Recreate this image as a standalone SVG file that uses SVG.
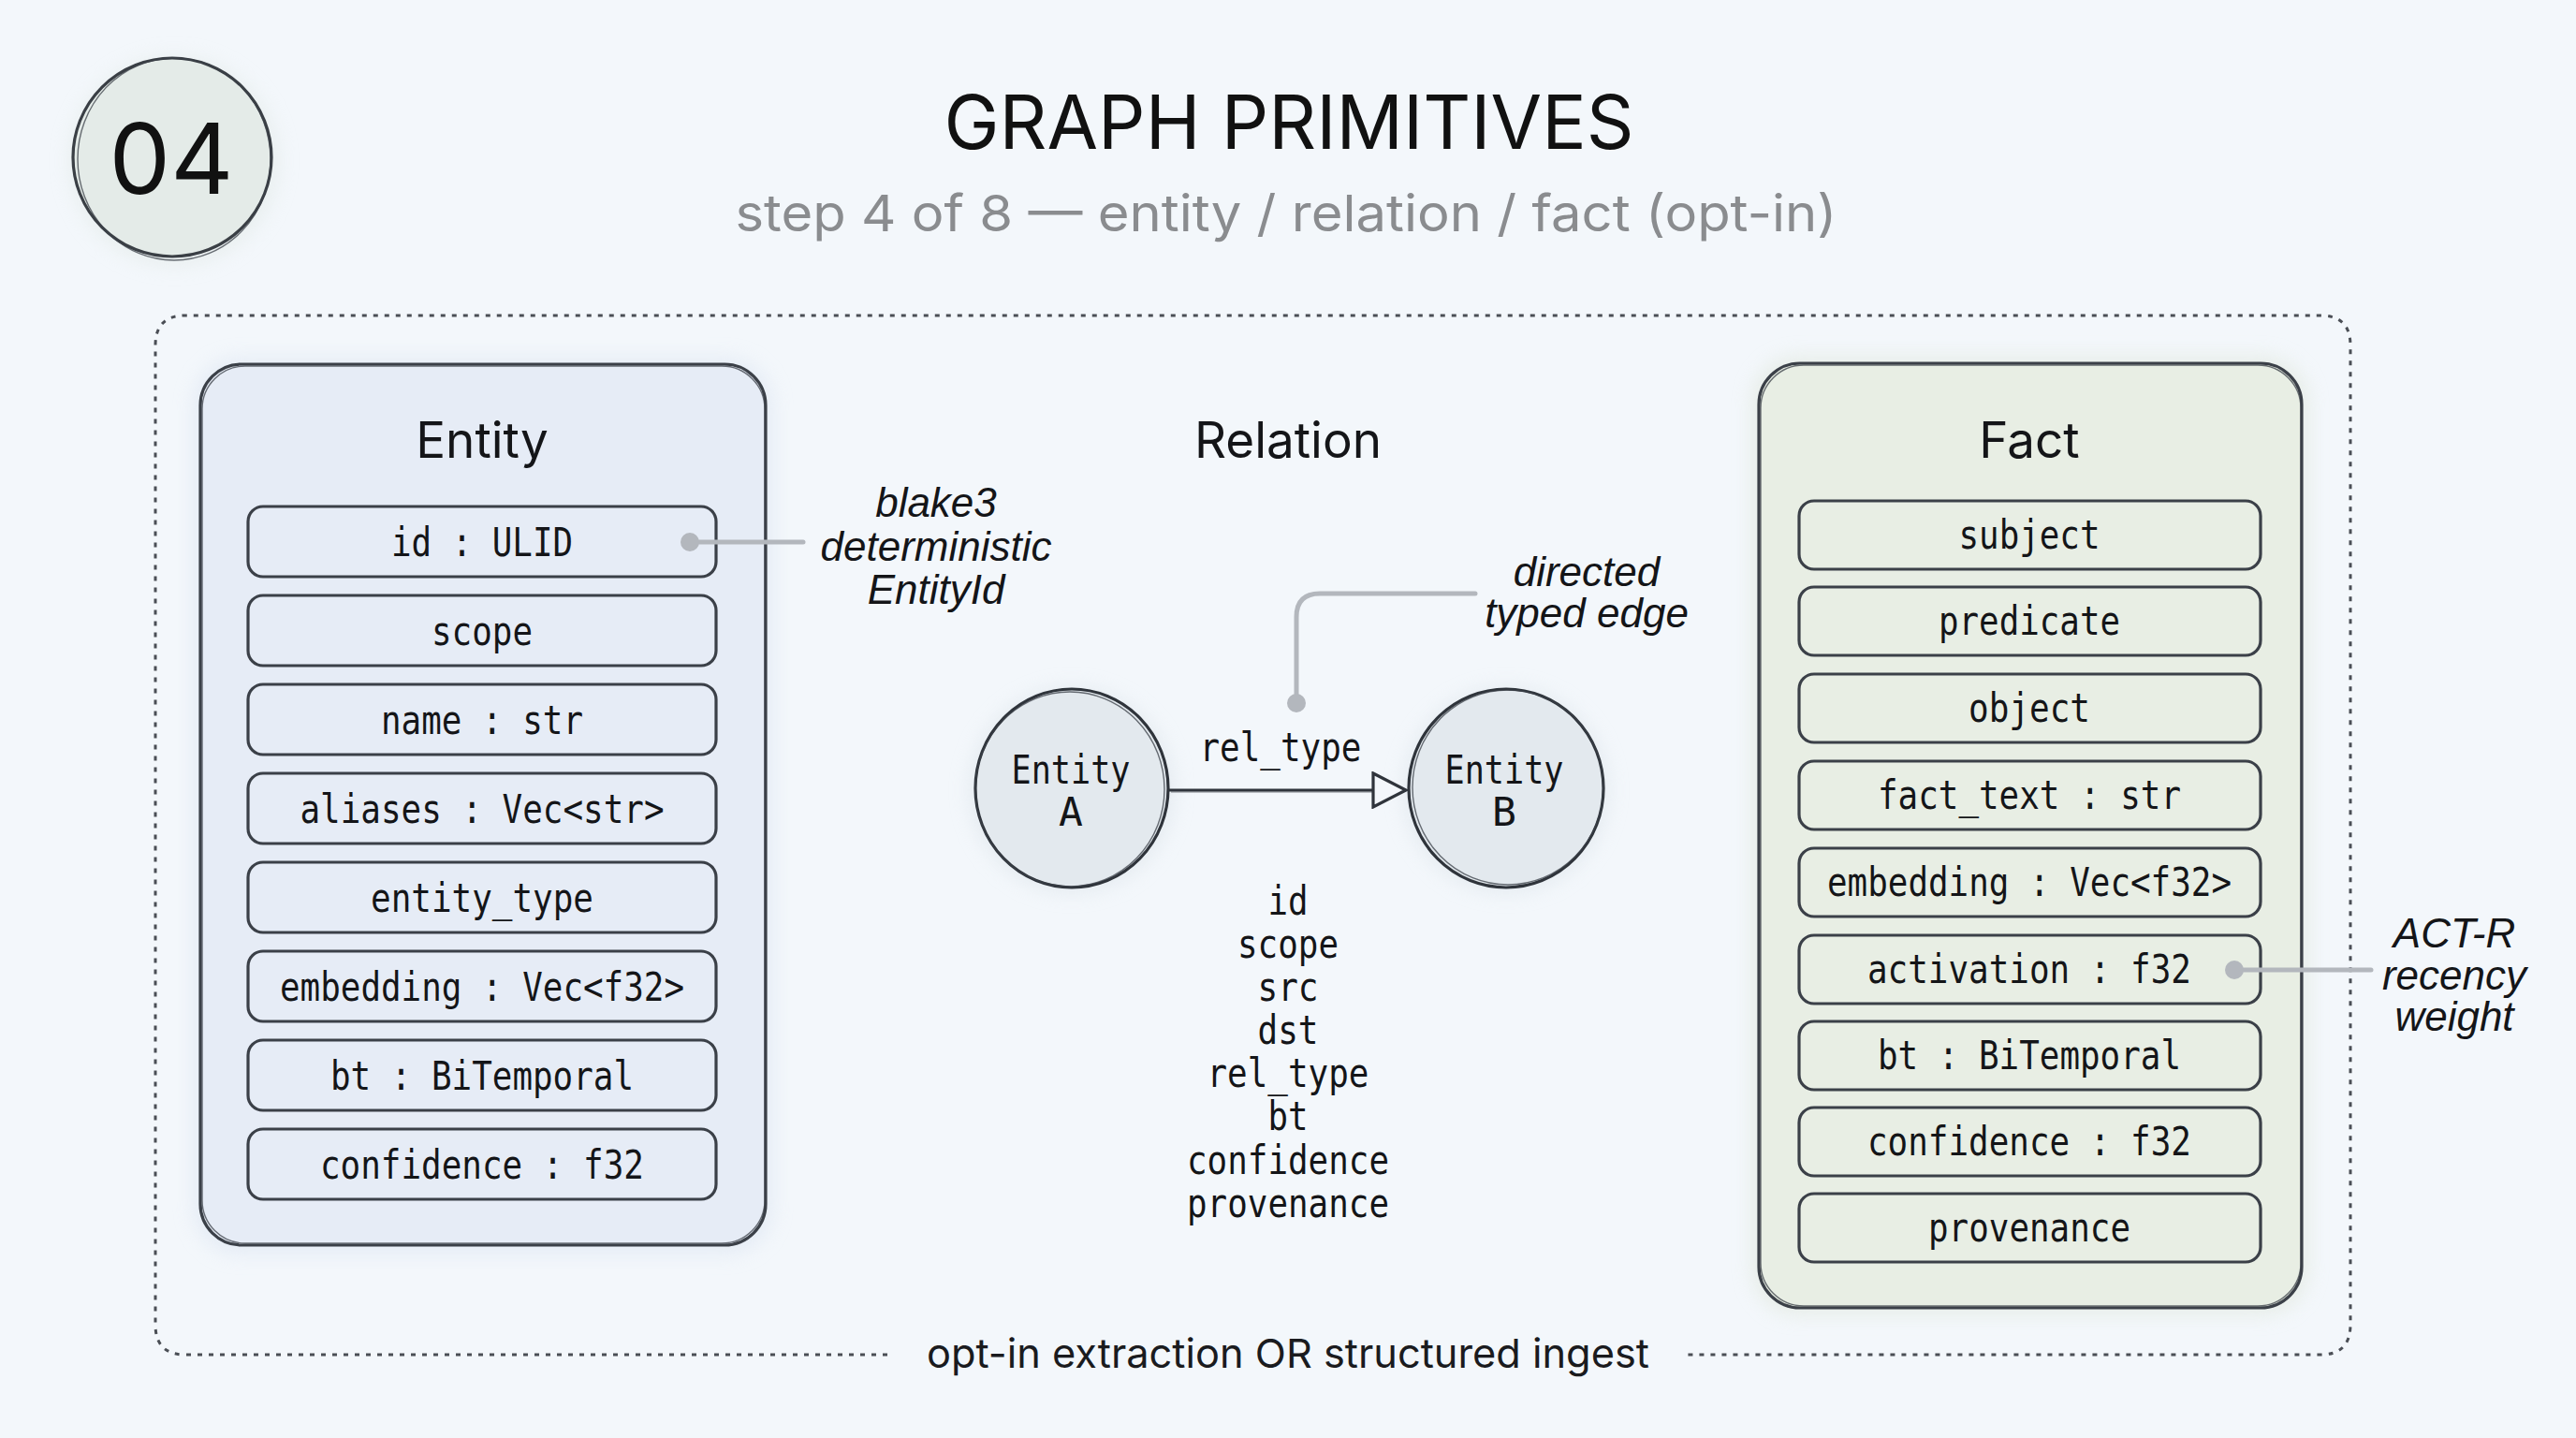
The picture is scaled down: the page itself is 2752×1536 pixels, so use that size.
<svg xmlns="http://www.w3.org/2000/svg" width="2752" height="1536" viewBox="0 0 2752 1536">
  <defs>
    <style>
      .sans { font-family: Inter, "Liberation Sans", sans-serif; }
      .mono { font-family: "DejaVu Sans Mono", "Liberation Mono", monospace; font-size: 43px; fill: #141518; text-anchor: middle; }
      .hand { font-family: "Liberation Sans", "DejaVu Sans", sans-serif; font-style: italic; font-size: 44px; fill: #141518; text-anchor: middle; }
      .ptitle { font-family: Inter, "Liberation Sans", sans-serif; font-size: 53px; fill: #141518; text-anchor: middle; }
      .field { fill: none; stroke: #3b4048; stroke-width: 3.2; }
      .panel { stroke: #3b4048; stroke-width: 3.2; }
      .sketch { fill: none; stroke: #3b4048; stroke-width: 1.4; opacity: 0.75; }
      .lead { fill: none; stroke: #b3b7bd; stroke-width: 5; stroke-linecap: round; }
      .dot { fill: #b3b7bd; }
      .edge { fill: none; stroke: #2f343b; stroke-width: 3.2; }
    </style>
    <filter id="wash" x="-10%" y="-10%" width="120%" height="120%">
      <feGaussianBlur stdDeviation="10"/>
    </filter>
    <marker id="openTri" viewBox="0 0 40 40" refX="37" refY="20" markerWidth="40" markerHeight="40" markerUnits="userSpaceOnUse" orient="auto">
      <path d="M2,2 L37,20 L2,38 Z" fill="#f3f7fb" stroke="#2f343b" stroke-width="3.2" stroke-linejoin="miter"/>
    </marker>
  </defs>

  <rect x="0" y="0" width="2752" height="1536" fill="#f3f7fb"/>

  <!-- header -->
  <g id="badge">
    <circle cx="186" cy="172" r="112" fill="#dfe7e3" opacity="0.5" filter="url(#wash)"/>
    <circle cx="184" cy="168" r="106" fill="#e4ebe8" stroke="#3a3f45" stroke-width="3.2"/>
    <ellipse cx="186" cy="170" rx="103" ry="108" class="sketch"/>
    <text x="183" y="207" class="sans" font-size="104" fill="#111" text-anchor="middle">04</text>
  </g>
  <g id="title">
    <text x="1377" y="159" class="sans" font-size="80" fill="#111" text-anchor="middle" textLength="737" lengthAdjust="spacingAndGlyphs">GRAPH PRIMITIVES</text>
    <text x="1374" y="247" class="sans" font-size="54" fill="#8a8c8f" text-anchor="middle" textLength="1177" lengthAdjust="spacingAndGlyphs">step 4 of 8 — entity / relation / fact (opt-in)</text>
  </g>

  <!-- outer dashed container -->
  <g id="container">
    <path d="M948,1447 H198 Q166,1447 166,1415 V369 Q166,337 198,337 H2479 Q2511,337 2511,369 V1415 Q2511,1447 2479,1447 H1801" fill="none" stroke="#4a4e55" stroke-width="3" stroke-dasharray="5 7"/>
    <text x="1376" y="1461" class="sans" font-size="43" fill="#1a1b1e" text-anchor="middle" textLength="772" lengthAdjust="spacingAndGlyphs">opt-in extraction OR structured ingest</text>
  </g>

  <!-- Entity panel -->
  <g id="entity">
    <rect x="206" y="382" width="620" height="958" rx="50" fill="#dde5f2" opacity="0.6" filter="url(#wash)"/>
    <rect x="214" y="389" width="604" height="941" rx="44" fill="#e6ecf6" class="panel"/>
    <rect x="216" y="391" width="601" height="937" rx="46" class="sketch"/>
    <text x="515" y="489" class="ptitle">Entity</text>
    <g id="entity-id">
      <rect x="265" y="541" width="500" height="75" rx="16" class="field"/>
      <text x="515" y="594" class="mono" textLength="194" lengthAdjust="spacingAndGlyphs">id : ULID</text>
    </g>
    <g id="entity-scope">
      <rect x="265" y="636" width="500" height="75" rx="16" class="field"/>
      <text x="515" y="689" class="mono" textLength="108" lengthAdjust="spacingAndGlyphs">scope</text>
    </g>
    <g id="entity-name">
      <rect x="265" y="731" width="500" height="75" rx="16" class="field"/>
      <text x="515" y="784" class="mono" textLength="216" lengthAdjust="spacingAndGlyphs">name : str</text>
    </g>
    <g id="entity-aliases">
      <rect x="265" y="826" width="500" height="75" rx="16" class="field"/>
      <text x="515" y="879" class="mono" textLength="389" lengthAdjust="spacingAndGlyphs">aliases : Vec&lt;str&gt;</text>
    </g>
    <g id="entity-type">
      <rect x="265" y="921" width="500" height="75" rx="16" class="field"/>
      <text x="515" y="974" class="mono" textLength="238" lengthAdjust="spacingAndGlyphs">entity_type</text>
    </g>
    <g id="entity-embedding">
      <rect x="265" y="1016" width="500" height="75" rx="16" class="field"/>
      <text x="515" y="1069" class="mono" textLength="432" lengthAdjust="spacingAndGlyphs">embedding : Vec&lt;f32&gt;</text>
    </g>
    <g id="entity-bt">
      <rect x="265" y="1111" width="500" height="75" rx="16" class="field"/>
      <text x="515" y="1164" class="mono" textLength="324" lengthAdjust="spacingAndGlyphs">bt : BiTemporal</text>
    </g>
    <g id="entity-confidence">
      <rect x="265" y="1206" width="500" height="75" rx="16" class="field"/>
      <text x="515" y="1259" class="mono" textLength="346" lengthAdjust="spacingAndGlyphs">confidence : f32</text>
    </g>
  </g>

  <!-- Relation -->
  <g id="relation">
    <text x="1376" y="489" class="ptitle">Relation</text>
    <g id="relation-fields">
      <text x="1376" y="977" class="mono" textLength="43" lengthAdjust="spacingAndGlyphs">id</text>
      <text x="1376" y="1023" class="mono" textLength="108" lengthAdjust="spacingAndGlyphs">scope</text>
      <text x="1376" y="1069" class="mono" textLength="65" lengthAdjust="spacingAndGlyphs">src</text>
      <text x="1376" y="1115" class="mono" textLength="65" lengthAdjust="spacingAndGlyphs">dst</text>
      <text x="1376" y="1161" class="mono" textLength="173" lengthAdjust="spacingAndGlyphs">rel_type</text>
      <text x="1376" y="1207" class="mono" textLength="43" lengthAdjust="spacingAndGlyphs">bt</text>
      <text x="1376" y="1254" class="mono" textLength="216" lengthAdjust="spacingAndGlyphs">confidence</text>
      <text x="1376" y="1300" class="mono" textLength="216" lengthAdjust="spacingAndGlyphs">provenance</text>
    </g>
  </g>

  <g id="entity-a">
    <circle cx="1145" cy="844" r="110" fill="#dde4ea" opacity="0.6" filter="url(#wash)"/>
    <ellipse cx="1145" cy="842" rx="103" ry="106" fill="#e3e9ee" stroke="#2f343b" stroke-width="3.2"/>
    <ellipse cx="1143" cy="843" rx="101" ry="104" class="sketch"/>
    <text x="1144" y="837" class="mono" textLength="127" lengthAdjust="spacingAndGlyphs">Entity</text>
    <text x="1144" y="882" class="mono">A</text>
  </g>
  <g id="entity-b">
    <circle cx="1609" cy="844" r="110" fill="#dde4ea" opacity="0.6" filter="url(#wash)"/>
    <ellipse cx="1609" cy="842" rx="104" ry="106" fill="#e3e9ee" stroke="#2f343b" stroke-width="3.2"/>
    <ellipse cx="1611" cy="841" rx="102" ry="104" class="sketch"/>
    <text x="1607" y="837" class="mono" textLength="127" lengthAdjust="spacingAndGlyphs">Entity</text>
    <text x="1607" y="882" class="mono">B</text>
  </g>

  <!-- Fact panel -->
  <g id="fact">
    <rect x="1871" y="380" width="596" height="1025" rx="50" fill="#e0e7dc" opacity="0.6" filter="url(#wash)"/>
    <rect x="1879" y="388" width="580" height="1009" rx="44" fill="#e8eee4" class="panel"/>
    <rect x="1881" y="390" width="577" height="1005" rx="46" class="sketch"/>
    <text x="2168" y="489" class="ptitle">Fact</text>
    <g id="fact-subject">
      <rect x="1922" y="535" width="493" height="73" rx="16" class="field"/>
      <text x="2168" y="586" class="mono" textLength="151" lengthAdjust="spacingAndGlyphs">subject</text>
    </g>
    <g id="fact-predicate">
      <rect x="1922" y="627" width="493" height="73" rx="16" class="field"/>
      <text x="2168" y="678" class="mono" textLength="194" lengthAdjust="spacingAndGlyphs">predicate</text>
    </g>
    <g id="fact-object">
      <rect x="1922" y="720" width="493" height="73" rx="16" class="field"/>
      <text x="2168" y="771" class="mono" textLength="130" lengthAdjust="spacingAndGlyphs">object</text>
    </g>
    <g id="fact-text">
      <rect x="1922" y="813" width="493" height="73" rx="16" class="field"/>
      <text x="2168" y="864" class="mono" textLength="324" lengthAdjust="spacingAndGlyphs">fact_text : str</text>
    </g>
    <g id="fact-embedding">
      <rect x="1922" y="906" width="493" height="73" rx="16" class="field"/>
      <text x="2168" y="957" class="mono" textLength="432" lengthAdjust="spacingAndGlyphs">embedding : Vec&lt;f32&gt;</text>
    </g>
    <g id="fact-activation">
      <rect x="1922" y="999" width="493" height="73" rx="16" class="field"/>
      <text x="2168" y="1050" class="mono" textLength="346" lengthAdjust="spacingAndGlyphs">activation : f32</text>
    </g>
    <g id="fact-bt">
      <rect x="1922" y="1091" width="493" height="73" rx="16" class="field"/>
      <text x="2168" y="1142" class="mono" textLength="324" lengthAdjust="spacingAndGlyphs">bt : BiTemporal</text>
    </g>
    <g id="fact-confidence">
      <rect x="1922" y="1183" width="493" height="73" rx="16" class="field"/>
      <text x="2168" y="1234" class="mono" textLength="346" lengthAdjust="spacingAndGlyphs">confidence : f32</text>
    </g>
    <g id="fact-provenance">
      <rect x="1922" y="1275" width="493" height="73" rx="16" class="field"/>
      <text x="2168" y="1326" class="mono" textLength="216" lengthAdjust="spacingAndGlyphs">provenance</text>
    </g>
  </g>

  <!-- annotations -->
  <g id="note-blake3">
    <text x="1000" y="552" class="hand">blake3</text>
    <text x="1000" y="599" class="hand">deterministic</text>
    <text x="1000" y="645" class="hand">EntityId</text>
  </g>
  <g id="note-directed">
    <text x="1695" y="626" class="hand">directed</text>
    <text x="1695" y="670" class="hand">typed edge</text>
  </g>
  <g id="note-actr">
    <text x="2622" y="1012" class="hand">ACT-R</text>
    <text x="2622" y="1057" class="hand">recency</text>
    <text x="2622" y="1101" class="hand">weight</text>
  </g>

  <!-- connectors -->
  <g id="connectors">
    <path d="M1249,844 H1502" class="edge" marker-end="url(#openTri)"/>
    <path d="M1251,846 H1466" fill="none" stroke="#2f343b" stroke-width="1.2" opacity="0.6"/>
    <text x="1368" y="813" class="mono" textLength="173" lengthAdjust="spacingAndGlyphs">rel_type</text>
    <path d="M737,579 H858" class="lead"/>
    <circle cx="737" cy="579" r="10" class="dot"/>
    <path d="M1576,634 H1410 Q1385,634 1385,659 V750" class="lead"/>
    <circle cx="1385" cy="751" r="10" class="dot"/>
    <path d="M2387,1036 H2533" class="lead"/>
    <circle cx="2387" cy="1036" r="10" class="dot"/>
  </g>
</svg>
